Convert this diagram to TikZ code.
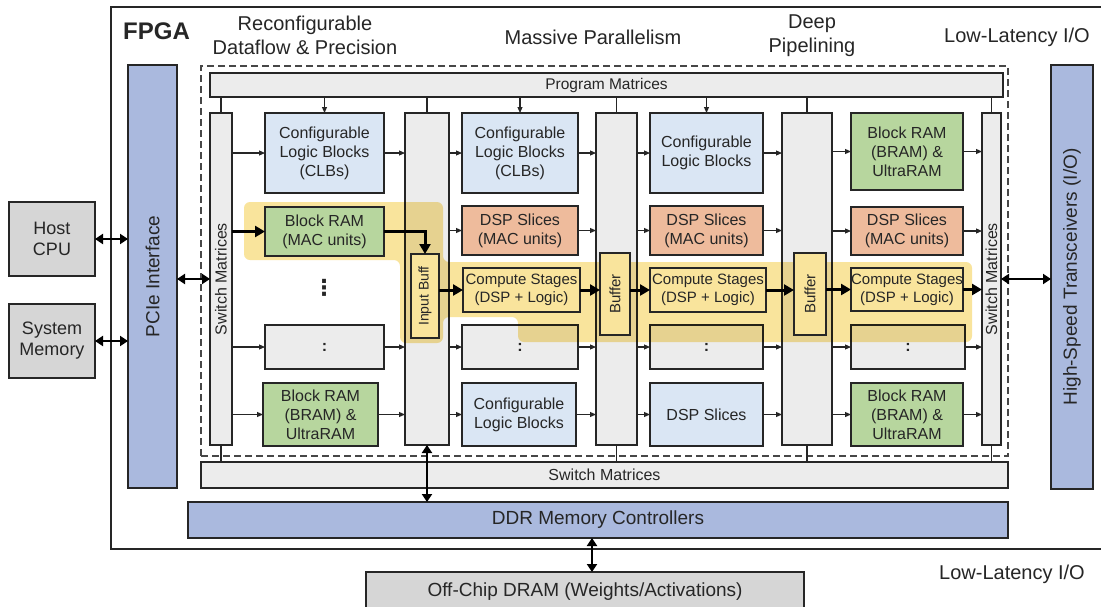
\documentclass[tikz,border=0pt]{standalone}
\usepackage{graphicx}
\usepackage{fontspec}
\setmainfont{Liberation Sans}
\newfontfamily\dejavu{DejaVu Sans}
\usetikzlibrary{arrows.meta,calc}

\definecolor{ink}{HTML}{262626}
\definecolor{hostgray}{HTML}{D6D6D6}
\definecolor{colgray}{HTML}{ECECEC}
\definecolor{clbblue}{HTML}{DAE6F4}
\definecolor{ramgreen}{HTML}{B7D69E}
\definecolor{dsporange}{HTML}{EEBB9C}
\definecolor{ioblue}{HTML}{AAB9DE}
\definecolor{hlyellow}{HTML}{F5D25A}
\definecolor{stageyellow}{HTML}{F9E49C}

% box from corner (x1,y1) to corner (x2,y2): name, x1, y1, x2, y2, style, text
\newcommand{\blk}[7]{%
  \node[#6, minimum width={#4-#2}, minimum height={#5-#3}] (#1)
    at ({(#2+#4)/2},{(#3+#5)/2}) {#7};}

\tikzset{
  base/.style={draw=ink, line width=1.2pt, inner sep=0pt, outer sep=0pt,
    align=center, text=ink, font=\fontsize{16}{19}\selectfont},
  graybox/.style={base, fill=hostgray, font=\fontsize{18}{21}\selectfont},
  colbar/.style={base, fill=colgray},
  clbbox/.style={base, fill=clbblue},
  rambox/.style={base, fill=ramgreen},
  dspbox/.style={base, fill=dsporange},
  stagebox/.style={base, fill=stageyellow, font=\fontsize{15}{18}\selectfont},
  iobar/.style={base, fill=ioblue, font=\fontsize{19}{23}\selectfont},
  fabricbox/.style={draw=ink!85, line width=1.1pt, dash pattern=on 7pt off 4pt,
    inner sep=0pt, outer sep=0pt},
  heading/.style={align=center, text=ink, font=\fontsize{20}{24}\selectfont,
    inner sep=0pt},
  thinarrow/.style={draw=ink, line width=1.1pt, -{Triangle[length=6pt,width=5pt]}},
  thickarrow/.style={draw=black, line width=3pt, -{Triangle[length=10pt,width=11pt]}},
  bothway/.style={draw=black, line width=2.6pt,
    {Triangle[length=8pt,width=10pt]}-{Triangle[length=8pt,width=10pt]}},
  link/.style={draw=ink, line width=1.1pt},
}

\begin{document}
\begin{tikzpicture}[x=1pt, y=-1pt]
\useasboundingbox (0,0) rectangle (1101,606);
\fill[white] (0,0) rectangle (1101,606);

% FPGA frame, open towards the right edge
\draw[ink, line width=1.8pt] (1103,7) -- (111,7) -- (111,549) -- (1103,549);

% headings
\node[anchor=west, text=ink, inner sep=0pt, font=\bfseries\fontsize{24}{28}\selectfont] (fpga) at (123,31) {FPGA};
\node[heading] (hrecon) at (305,35) {Reconfigurable\\Dataflow \& Precision};
\node[heading] (hpar) at (593,37) {Massive Parallelism};
\node[heading] (hpipe) at (812,36) {Deep\\Pipelining};
\node[heading] (hlat) at (1017,37) {Low-Latency I/O};
\node[heading] (hlat2) at (1012,574) {Low-Latency I/O};

% host side
\blk{host}{9}{202}{95}{276}{graybox}{Host\\CPU}
\blk{sysmem}{9}{304}{95}{378}{graybox}{System\\Memory}
\blk{pcie}{128}{65}{177}{488}{iobar}{\rotatebox{90}{PCIe Interface}}
\blk{hst}{1051}{65}{1093}{489}{iobar}{\rotatebox{90}{High-Speed Transceivers (I/O)}}

% programmable fabric: routing columns first
\blk{fabric}{201}{66}{1008}{456}{fabricbox}{}
\blk{progm}{210}{73}{1003}{97}{colbar, font=\fontsize{15.5}{18}\selectfont}{Program Matrices}
\blk{sw1}{210}{113}{232}{445}{colbar}{\rotatebox{90}{Switch Matrices}}
\blk{c1}{405}{113}{449}{445}{colbar}{}
\blk{c2}{596}{113}{637}{445}{colbar}{}
\blk{c3}{782}{113}{832}{445}{colbar}{}
\blk{sw2}{982}{113}{1001}{445}{colbar}{\rotatebox{90}{Switch Matrices}}

% spare slots
\blk{e1}{265}{325}{384}{369}{colbar}{\textbf{:}}
\blk{e2}{462}{325}{578}{369}{colbar}{\textbf{:}}
\blk{e3}{650}{325}{763}{369}{colbar}{\textbf{:}}
\blk{e4}{851}{325}{965}{369}{colbar}{\textbf{:}}

% highlighted pipeline, laid over the routing columns
\begin{scope}[blend mode=multiply]
\fill[hlyellow, fill opacity=0.6, rounded corners=6pt]
  (244,202) -- (443,202) -- (443,262) -- (972,262) -- (972,342) -- (518,342)
  -- (518,317) -- (443,317) -- (443,343) -- (400,343) -- (400,260) -- (244,260) -- cycle;
\end{scope}

\blk{ib}{411}{254}{439}{338}{stagebox, font=\fontsize{14}{16}\selectfont}{\rotatebox{90}{Input Buff}}
\blk{bf1}{600}{253}{630}{335}{stagebox, font=\fontsize{15}{17}\selectfont}{\rotatebox{90}{Buffer}}
\blk{bf2}{794}{253}{826}{335}{stagebox, font=\fontsize{15}{17}\selectfont}{\rotatebox{90}{Buffer}}

% column 1
\blk{clb1}{265}{113}{384}{193}{clbbox}{Configurable\\Logic Blocks\\(CLBs)}
\blk{bram1}{265}{207}{384}{256}{rambox}{Block RAM\\(MAC units)}
\node[text=ink, inner sep=0pt, font=\dejavu\bfseries\fontsize{22}{22}\selectfont] (vd) at (324,288) {⋮};
\blk{bram1b}{263}{383}{378}{446}{rambox}{Block RAM\\(BRAM) \&\\UltraRAM}

% column 2
\blk{clb2}{462}{113}{578}{193}{clbbox}{Configurable\\Logic Blocks\\(CLBs)}
\blk{dsp2}{462}{206}{578}{255}{dspbox}{DSP Slices\\(MAC units)}
\blk{cs2}{463}{268}{580}{312}{stagebox}{Compute Stages\\(DSP + Logic)}
\blk{clb2b}{462}{383}{576}{446}{clbbox}{Configurable\\Logic Blocks}

% column 3
\blk{clb3}{650}{113}{763}{193}{clbbox}{Configurable\\Logic Blocks}
\blk{dsp3}{650}{206}{763}{255}{dspbox}{DSP Slices\\(MAC units)}
\blk{cs3}{650}{268}{766}{312}{stagebox}{Compute Stages\\(DSP + Logic)}
\blk{dsp3b}{650}{383}{763}{446}{clbbox}{DSP Slices}

% column 4
\blk{bram4}{851}{113}{963}{190}{rambox}{Block RAM\\(BRAM) \&\\UltraRAM}
\blk{dsp4}{851}{207}{963}{255}{dspbox}{DSP Slices\\(MAC units)}
\blk{cs4}{851}{268}{963}{311}{stagebox}{Compute Stages\\(DSP + Logic)}
\blk{bram4b}{851}{383}{963}{446}{rambox}{Block RAM\\(BRAM) \&\\UltraRAM}

% bottom bars and external memory
\blk{swb}{201}{462}{1008}{488}{colbar, font=\fontsize{16}{19}\selectfont}{Switch Matrices}
\blk{ddr}{188}{502}{1008}{538}{iobar}{DDR Memory Controllers}
\blk{dram}{366}{572}{804}{612}{graybox, font=\fontsize{19}{22}\selectfont}{Off-Chip DRAM (Weights/Activations)}

% program matrices feed
\foreach \t in {sw1,c1,c2,c3,sw2} \draw[link] (progm.south -| \t) -- (\t.north);
\foreach \t in {clb1,clb2,clb3} \draw[thinarrow] (progm.south -| \t) -- (\t.north);

% switch matrices at the bottom
\foreach \t in {sw1,c2,c3,sw2} \draw[link] (\t.south) -- (swb.north -| \t);

% regular rows of the fabric
\foreach \a/\b/\cc/\d in {clb1/clb2/clb3/bram4, e1/e2/e3/e4, bram1b/clb2b/dsp3b/bram4b}{
  \draw[thinarrow] (sw1.east |- \a) -- (\a.west);
  \draw[thinarrow] (\a.east) -- (c1.west |- \a);
  \draw[thinarrow] (c1.east |- \b) -- (\b.west);
  \draw[thinarrow] (\b.east) -- (c2.west |- \b);
  \draw[thinarrow] (c2.east |- \cc) -- (\cc.west);
  \draw[thinarrow] (\cc.east) -- (c3.west |- \cc);
  \draw[thinarrow] (c3.east |- \d) -- (\d.west);
  \draw[thinarrow] (\d.east) -- (sw2.west |- \d);
}

% DSP row
\draw[thinarrow] (c1.east |- dsp2) -- (dsp2.west);
\draw[thinarrow] (dsp2.east) -- (c2.west |- dsp2);
\draw[thinarrow] (c2.east |- dsp3) -- (dsp3.west);
\draw[thinarrow] (dsp3.east) -- (c3.west |- dsp3);
\draw[thinarrow] (c3.east |- dsp4) -- (dsp4.west);
\draw[thinarrow] (dsp4.east) -- (sw2.west |- dsp4);

% pipelined data path
\draw[thickarrow] (sw1.east |- bram1) -- (bram1.west);
\draw[thickarrow] (bram1.east) -| (ib.north);
\draw[thickarrow] (ib.east |- cs2) -- (cs2.west);
\draw[thickarrow] (cs2.east) -- (bf1.west |- cs2);
\draw[thickarrow] (bf1.east |- cs3) -- (cs3.west);
\draw[thickarrow] (cs3.east) -- (bf2.west |- cs3);
\draw[thickarrow] (bf2.east |- cs4) -- (cs4.west);
\draw[thickarrow] (cs4.east) -- (sw2.west |- cs4);

% external links
\draw[bothway] (host.east) -- (pcie.west |- host.east);
\draw[bothway] (sysmem.east) -- (pcie.west |- sysmem.east);
\draw[bothway] (pcie.east |- sw1) -- (sw1.west);
\draw[bothway] (sw2.east) -- (hst.west |- sw2.east);
\draw[bothway] (c1.south) -- (ddr.north -| c1);
\coordinate (dx) at (592,555);
\draw[bothway] (ddr.south -| dx) -- (dram.north -| dx);
\end{tikzpicture}
\end{document}
